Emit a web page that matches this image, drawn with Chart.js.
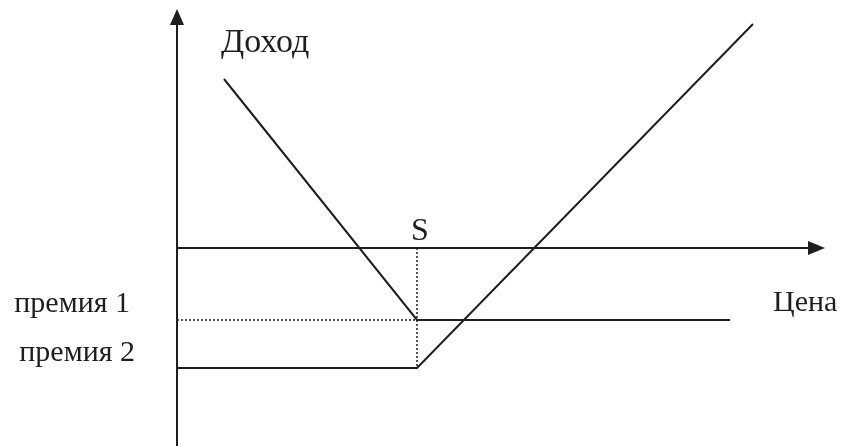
<!DOCTYPE html>
<html><head><meta charset="utf-8">
<script src="https://cdn.jsdelivr.net/npm/chart.js@4/dist/chart.umd.min.js"></script>
<style>html,body{margin:0;padding:0;background:#fff}#wrap{width:843px;height:446px}</style>
</head><body><div id="wrap"><canvas id="c" width="843" height="446"></canvas></div>
<script>
// Data (origin = intersection of the axes; units ~ pixels of the original figure)
const strike = 240;          // S
const premium1 = -72;        // премия 1
const premium2 = -120;       // премия 2
const putX = [47, strike, 553];
const putY = [169, premium1, premium1];
const callX = [0, strike, 576];
const callY = [premium2, premium2, 224];
const axisLabels = ['Доход', 'Цена', 'S', 'премия 1', 'премия 2'];

const xMin = -177, xMax = 666, yMin = -198, yMax = 248;
const ink = '#1e1e1e';

const toPts = (xs, ys) => xs.map((x, i) => ({x, y: ys[i]}));

const overlay = {
  id: 'overlay',
  afterDatasetsDraw(chart) {
    const {ctx, scales: {x, y}} = chart;
    const px = v => x.getPixelForValue(v), py = v => y.getPixelForValue(v);
    ctx.save();
    ctx.strokeStyle = ink; ctx.fillStyle = ink; ctx.lineWidth = 2;
    // Y axis
    ctx.beginPath(); ctx.moveTo(px(0), py(yMin)); ctx.lineTo(px(0), py(224)); ctx.stroke();
    ctx.beginPath(); ctx.moveTo(px(0), py(239)); ctx.lineTo(px(0) - 7, py(223)); ctx.lineTo(px(0) + 7, py(223)); ctx.closePath(); ctx.fill();
    // X axis
    ctx.beginPath(); ctx.moveTo(px(0), py(0)); ctx.lineTo(px(632), py(0)); ctx.stroke();
    ctx.beginPath(); ctx.moveTo(px(648), py(0)); ctx.lineTo(px(631), py(0) - 7); ctx.lineTo(px(631), py(0) + 7); ctx.closePath(); ctx.fill();
    // Labels
    const fam = '"Liberation Serif", "Times New Roman", serif';
    ctx.textBaseline = 'alphabetic';
    ctx.textAlign = 'left';
    ctx.font = '34px ' + fam;
    ctx.fillText(axisLabels[0], px(44), py(196));
    ctx.font = '30px ' + fam;
    ctx.fillText(axisLabels[1], px(596), py(-63));
    ctx.textAlign = 'center';
    ctx.font = '32px ' + fam;
    ctx.fillText(axisLabels[2], px(strike + 3), py(8));
    ctx.textAlign = 'right';
    ctx.font = '30px ' + fam;
    ctx.fillText(axisLabels[3], px(-47), py(-64));
    ctx.fillText(axisLabels[4], px(-42), py(-113));
    ctx.restore();
  }
};

new Chart(document.getElementById('c'), {
  type: 'scatter',
  data: {
    datasets: [
      {data: toPts(putX, putY), showLine: true, borderColor: ink, borderWidth: 2, pointRadius: 0, tension: 0},
      {data: toPts(callX, callY), showLine: true, borderColor: ink, borderWidth: 2, pointRadius: 0, tension: 0},
      {data: toPts([strike, strike], [0, premium2]), showLine: true, borderColor: ink, borderWidth: 1.5, borderDash: [2, 2], pointRadius: 0},
      {data: toPts([0, strike], [premium1, premium1]), showLine: true, borderColor: ink, borderWidth: 1.5, borderDash: [2, 2], pointRadius: 0}
    ]
  },
  options: {
    responsive: false, animation: false,
    layout: {padding: 0},
    plugins: {legend: {display: false}, tooltip: {enabled: false}},
    scales: {
      x: {type: 'linear', min: xMin, max: xMax, display: false},
      y: {type: 'linear', min: yMin, max: yMax, display: false}
    }
  },
  plugins: [overlay]
});
</script></body></html>
